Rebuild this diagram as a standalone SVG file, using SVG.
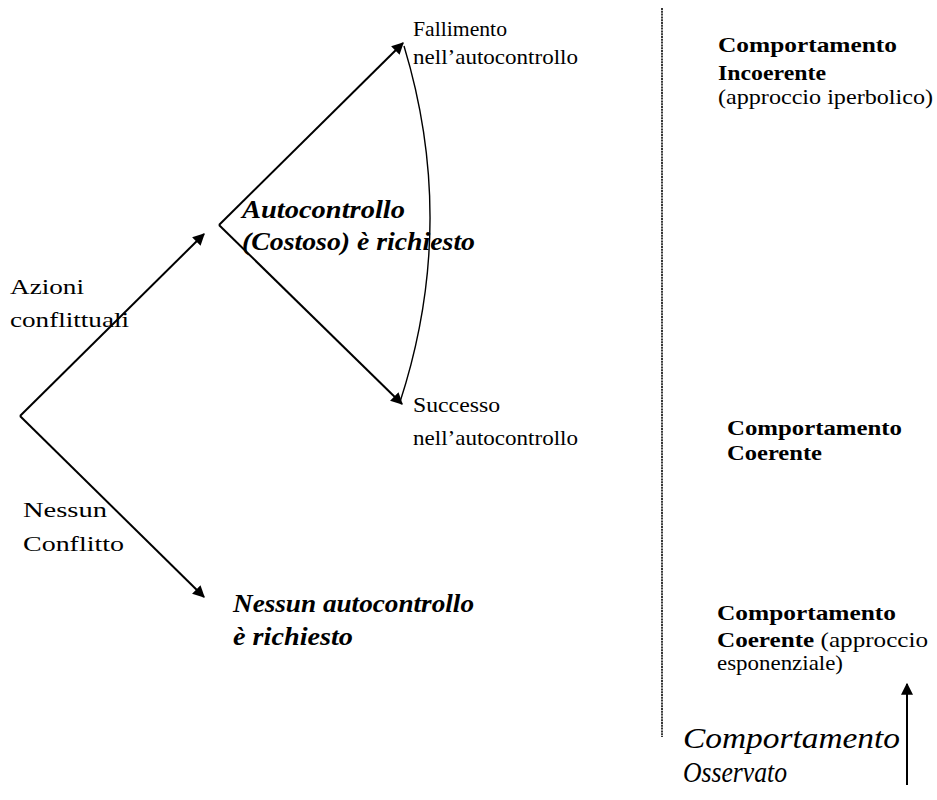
<svg xmlns="http://www.w3.org/2000/svg" width="937" height="800" viewBox="0 0 937 800">
<defs>
  <marker id="ah" viewBox="0 0 10 10" refX="9" refY="5" markerWidth="6" markerHeight="6" markerUnits="strokeWidth" orient="auto">
    <path d="M0,0 L10,5 L0,10 z" fill="#000"/>
  </marker>
</defs>
<g id="connectors" fill="none" stroke="#000">
  <g stroke-width="2">
    <path d="M20,416 L204,234" marker-end="url(#ah)"/>
    <path d="M20,416 L204,597" marker-end="url(#ah)"/>
    <path d="M219,225 L403,43" marker-end="url(#ah)"/>
    <path d="M219,225 L402,404" marker-end="url(#ah)"/>
    <path d="M907,785 L907,684" marker-end="url(#ah)"/>
  </g>
  <path d="M404,46 Q458,224 400,402" stroke-width="1.4"/>
  <path d="M662,8 L662,737" stroke="#222" stroke-width="1.8" stroke-dasharray="2 0.8"/>
</g>
<g font-family="Liberation Serif" fill="#000">
<g id="fallimento" font-size="22">
  <text x="413" y="36" textLength="94" lengthAdjust="spacingAndGlyphs">Fallimento</text>
  <text x="413" y="64" textLength="165" lengthAdjust="spacingAndGlyphs">nell’autocontrollo</text>
</g>
<g id="autocontrollo" font-size="25" font-weight="bold" font-style="italic">
  <text x="242" y="218" textLength="163" lengthAdjust="spacingAndGlyphs">Autocontrollo</text>
  <text x="242" y="250" textLength="233" lengthAdjust="spacingAndGlyphs">(Costoso) è richiesto</text>
</g>
<g id="azioni" font-size="22">
  <text x="10" y="294" textLength="74" lengthAdjust="spacingAndGlyphs">Azioni</text>
  <text x="10" y="327" textLength="119" lengthAdjust="spacingAndGlyphs">conflittuali</text>
</g>
<g id="successo" font-size="22">
  <text x="413" y="412" textLength="87" lengthAdjust="spacingAndGlyphs">Successo</text>
  <text x="413" y="445" textLength="165" lengthAdjust="spacingAndGlyphs">nell’autocontrollo</text>
</g>
<g id="nessun-conflitto" font-size="22">
  <text x="23" y="517" textLength="84" lengthAdjust="spacingAndGlyphs">Nessun</text>
  <text x="23" y="551" textLength="101" lengthAdjust="spacingAndGlyphs">Conflitto</text>
</g>
<g id="nessun-autocontrollo" font-size="25" font-weight="bold" font-style="italic">
  <text x="233" y="612" textLength="241" lengthAdjust="spacingAndGlyphs">Nessun autocontrollo</text>
  <text x="233" y="645" textLength="120" lengthAdjust="spacingAndGlyphs">è richiesto</text>
</g>
<g id="incoerente" font-size="22">
  <text x="718" y="52" font-weight="bold" textLength="179" lengthAdjust="spacingAndGlyphs">Comportamento</text>
  <text x="718" y="80" font-weight="bold" textLength="108" lengthAdjust="spacingAndGlyphs">Incoerente</text>
  <text x="718" y="104" textLength="215" lengthAdjust="spacingAndGlyphs">(approccio iperbolico)</text>
</g>
<g id="coerente" font-size="22" font-weight="bold">
  <text x="727" y="435" textLength="175" lengthAdjust="spacingAndGlyphs">Comportamento</text>
  <text x="727" y="460" textLength="95" lengthAdjust="spacingAndGlyphs">Coerente</text>
</g>
<g id="coerente-esp" font-size="22">
  <text x="717" y="620" font-weight="bold" textLength="179" lengthAdjust="spacingAndGlyphs">Comportamento</text>
  <text x="717" y="647" textLength="211" lengthAdjust="spacingAndGlyphs"><tspan font-weight="bold">Coerente</tspan> (approccio</text>
  <text x="717" y="670" textLength="126" lengthAdjust="spacingAndGlyphs">esponenziale)</text>
</g>
<g id="osservato" font-size="29" font-style="italic">
  <text x="683" y="748" textLength="217" lengthAdjust="spacingAndGlyphs">Comportamento</text>
  <text x="683" y="782" textLength="104" lengthAdjust="spacingAndGlyphs">Osservato</text>
</g>
</g>
</svg>
